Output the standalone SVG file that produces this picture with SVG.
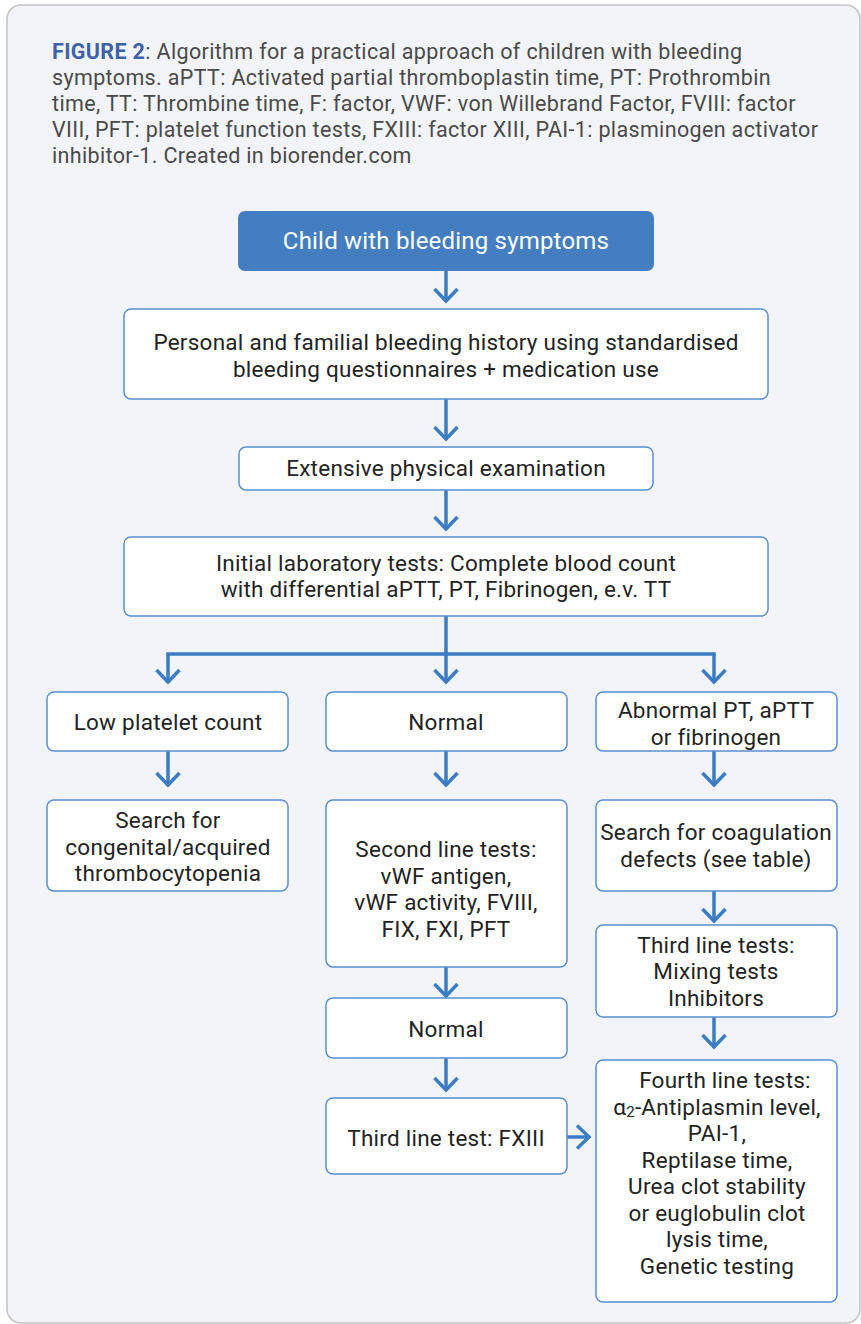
<svg xmlns="http://www.w3.org/2000/svg" width="861" height="1324" viewBox="0 0 861 1324">
<style>
.cap{font-family:Roboto,"Liberation Sans",sans-serif;font-size:21.5px;letter-spacing:0.35px;fill:#4a4a4a}
.capb{font-weight:bold;fill:#3c63a8}
.box{fill:#ffffff;stroke:#5a8fd0;stroke-width:1.5}
.t{font-family:Roboto,"Liberation Sans",sans-serif;font-size:22.5px;letter-spacing:0.25px;fill:#232323;text-anchor:middle}
.conn{fill:none;stroke:#3a7dc4;stroke-width:3.5}
</style>
<defs>
<marker id="ah" markerUnits="userSpaceOnUse" viewBox="-16 -15 20 30" markerWidth="20" markerHeight="30" refX="0" refY="0" orient="auto">
<path d="M-13,-11.5 L-1,0 L-13,11.5" fill="none" stroke="#3a7dc4" stroke-width="3.5"/>
</marker>
</defs>
<rect x="7" y="5" width="853" height="1318" rx="14" fill="#f2f4f9" stroke="#c4c4c4" stroke-width="1.5"/>
<g id="caption">
<text class="cap" x="52" y="59"><tspan class="capb">FIGURE 2</tspan>: Algorithm for a practical approach of children with bleeding</text>
<text class="cap" x="52" y="85">symptoms. aPTT: Activated partial thromboplastin time, PT: Prothrombin</text>
<text class="cap" x="52" y="111">time, TT: Thrombine time, F: factor, VWF: von Willebrand Factor, FVIII: factor</text>
<text class="cap" x="52" y="137">VIII, PFT: platelet function tests, FXIII: factor XIII, PAI-1: plasminogen activator</text>
<text class="cap" x="52" y="163">inhibitor-1. Created in biorender.com</text>
</g>
<g id="connectors" class="conn">
<line x1="446" y1="271" x2="446" y2="302" marker-end="url(#ah)"/>
<line x1="446" y1="399" x2="446" y2="440" marker-end="url(#ah)"/>
<line x1="446" y1="490" x2="446" y2="530" marker-end="url(#ah)"/>
<line x1="446" y1="616" x2="446" y2="683" marker-end="url(#ah)"/>
<line x1="166.25" y1="654" x2="715.75" y2="654"/>
<line x1="168" y1="654" x2="168" y2="683" marker-end="url(#ah)"/>
<line x1="714" y1="654" x2="714" y2="683" marker-end="url(#ah)"/>
<line x1="168" y1="751" x2="168" y2="786" marker-end="url(#ah)"/>
<line x1="446" y1="751" x2="446" y2="786" marker-end="url(#ah)"/>
<line x1="714" y1="751" x2="714" y2="786" marker-end="url(#ah)"/>
<line x1="446" y1="967" x2="446" y2="997" marker-end="url(#ah)"/>
<line x1="714" y1="891" x2="714" y2="922" marker-end="url(#ah)"/>
<line x1="714" y1="1017" x2="714" y2="1048" marker-end="url(#ah)"/>
<line x1="446" y1="1058" x2="446" y2="1091" marker-end="url(#ah)"/>
<line x1="567" y1="1137" x2="590" y2="1137" marker-end="url(#ah)"/>
</g>
<g id="n-child">
<rect x="238" y="211" width="416" height="60" rx="7" fill="#457ec0"/>
<text class="t" x="446" y="249" style="fill:#ffffff;font-size:24px;letter-spacing:0.2px">Child with bleeding symptoms</text>
</g>
<g id="n-history">
<rect class="box" x="124" y="309" width="644" height="90" rx="7"/>
<text class="t" x="446" y="350">Personal and familial bleeding history using standardised</text>
<text class="t" x="446" y="377">bleeding questionnaires + medication use</text>
</g>
<g id="n-exam">
<rect class="box" x="239" y="447" width="414" height="43" rx="7"/>
<text class="t" x="446" y="476">Extensive physical examination</text>
</g>
<g id="n-initial">
<rect class="box" x="124" y="537" width="644" height="79" rx="7"/>
<text class="t" x="446" y="571">Initial laboratory tests: Complete blood count</text>
<text class="t" x="446" y="597">with differential aPTT, PT, Fibrinogen, e.v. TT</text>
</g>
<g id="n-low">
<rect class="box" x="47" y="692" width="241" height="59" rx="7"/>
<text class="t" x="168" y="730">Low platelet count</text>
</g>
<g id="n-normal1">
<rect class="box" x="326" y="692" width="241" height="59" rx="7"/>
<text class="t" x="446" y="730">Normal</text>
</g>
<g id="n-abnormal">
<rect class="box" x="596" y="692" width="241" height="59" rx="7"/>
<text class="t" x="716" y="718">Abnormal PT, aPTT</text>
<text class="t" x="716" y="745">or fibrinogen</text>
</g>
<g id="n-thrombo">
<rect class="box" x="47" y="800" width="241" height="91" rx="7"/>
<text class="t" x="168" y="828">Search for</text>
<text class="t" x="168" y="855">congenital/acquired</text>
<text class="t" x="168" y="881">thrombocytopenia</text>
</g>
<g id="n-second">
<rect class="box" x="326" y="800" width="241" height="167" rx="7"/>
<text class="t" x="446" y="857">Second line tests:</text>
<text class="t" x="446" y="884">vWF antigen,</text>
<text class="t" x="446" y="910">vWF activity, FVIII,</text>
<text class="t" x="446" y="937">FIX, FXI, PFT</text>
</g>
<g id="n-coag">
<rect class="box" x="596" y="800" width="241" height="91" rx="7"/>
<text class="t" x="716" y="840">Search for coagulation</text>
<text class="t" x="716" y="867">defects (see table)</text>
</g>
<g id="n-third">
<rect class="box" x="596" y="925" width="241" height="92" rx="7"/>
<text class="t" x="716" y="953">Third line tests:</text>
<text class="t" x="716" y="979">Mixing tests</text>
<text class="t" x="716" y="1006">Inhibitors</text>
</g>
<g id="n-normal2">
<rect class="box" x="326" y="998" width="241" height="60" rx="7"/>
<text class="t" x="446" y="1037">Normal</text>
</g>
<g id="n-fxiii">
<rect class="box" x="326" y="1098" width="241" height="76" rx="7"/>
<text class="t" x="446" y="1146">Third line test: FXIII</text>
</g>
<g id="n-fourth">
<rect class="box" x="596" y="1060" width="241" height="242" rx="7"/>
<text class="t" x="725" y="1088">Fourth line tests:</text>
<text class="t" x="717" y="1115">α<tspan font-size="15" dy="2">2</tspan><tspan dy="-2">-Antiplasmin level,</tspan></text>
<text class="t" x="717" y="1141">PAI-1,</text>
<text class="t" x="717" y="1168">Reptilase time,</text>
<text class="t" x="717" y="1194">Urea clot stability</text>
<text class="t" x="717" y="1221">or euglobulin clot</text>
<text class="t" x="717" y="1247">lysis time,</text>
<text class="t" x="717" y="1274">Genetic testing</text>
</g>
</svg>
